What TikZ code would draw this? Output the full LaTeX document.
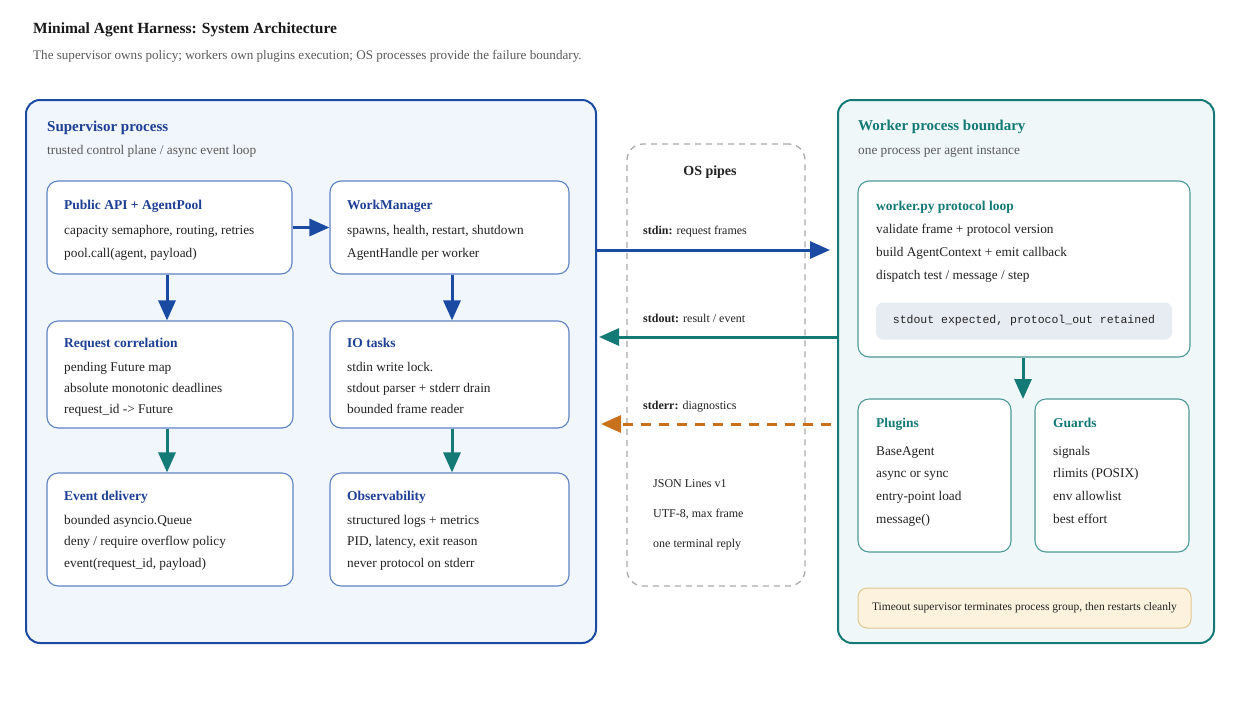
\documentclass[tikz,border=0pt]{standalone}
\usepackage{fontspec}
\setmainfont{Liberation Serif}
\setmonofont{Liberation Mono}
\usetikzlibrary{arrows.meta,calc}
\definecolor{supblue}{HTML}{1B4AA3}
\definecolor{titleblue}{HTML}{1E3F96}
\definecolor{boxblue}{HTML}{5E82C4}
\definecolor{supfill}{HTML}{F1F6FC}
\definecolor{wteal}{HTML}{137A75}
\definecolor{wfill}{HTML}{EFF7F8}
\definecolor{wbox}{HTML}{4E9A98}
\definecolor{orng}{HTML}{C8701C}
\definecolor{txt}{HTML}{222222}
\definecolor{subgray}{HTML}{5A5A5A}
\definecolor{codefill}{HTML}{E7ECF3}
\definecolor{tofill}{HTML}{FCF2DE}
\definecolor{todraw}{HTML}{E2C68E}
\definecolor{pipegray}{HTML}{ABABAB}
\newcommand\titfont{\fontsize{13.5}{16}\selectfont\bfseries}
\newcommand\bodyfont{\fontsize{13.3}{15}\selectfont}
\newcommand\mkbox[6]{\node[#1, minimum width={#4-#2}, minimum height={#5-#3}] (#6) at ({(#2+#4)/2},{(#3+#5)/2}) {};}
\newcommand\boxtext[8]{%
  \node[anchor=base west, font=\titfont, text=#4, inner sep=0pt] (#1-t) at (#2,#3+4) {#5};
  \foreach \l [count=\i] in {#8} {\node[anchor=base west, font=\bodyfont, text=txt, inner sep=0pt] (#1-\i) at (#2,{#3+4+#6+(\i-1)*#7}) {\l};}%
}
\tikzset{
  outerbox/.style={draw, rounded corners=14pt, line width=2pt, inner sep=0pt},
  ibox/.style={draw=boxblue, fill=white, rounded corners=11pt, line width=1.1pt, inner sep=0pt},
  wibox/.style={draw=wbox, fill=white, rounded corners=11pt, line width=1.1pt, inner sep=0pt},
  pipebox/.style={draw=pipegray, dash pattern=on 6pt off 5pt, rounded corners=16pt, line width=1.3pt, inner sep=0pt},
  arr/.style={line width=3pt, -{Triangle[length=20pt,width=17pt]}},
  lbl/.style={anchor=base west, inner sep=0pt, font=\fontsize{12}{14}\selectfont, text=txt},
  subt/.style={anchor=base west, inner sep=0pt, font=\fontsize{13.3}{15}\selectfont, text=subgray},
}
\begin{document}
\begin{tikzpicture}[x=1pt,y=-1pt]
\useasboundingbox[fill=white] (0,0) rectangle (1247,702);
% header
\node[anchor=base west, inner sep=0pt, font=\fontsize{15.5}{18}\selectfont\bfseries, text=black!90] (title) at (33,33) {Minimal Agent Harness: System Architecture};
\node[anchor=base west, inner sep=0pt, font=\fontsize{13.1}{15}\selectfont, text=subgray] (subtitle) at (33,59) {The supervisor owns policy; workers own plugins execution; OS processes provide the failure boundary.};
% outer containers
\mkbox{outerbox, draw=supblue, fill=supfill}{26}{100}{596}{643}{sup}
\mkbox{outerbox, draw=wteal, fill=wfill}{838}{100}{1214}{643}{wk}
\mkbox{pipebox}{627}{144}{805}{586}{pipes}
\node[anchor=base west, inner sep=0pt, font=\fontsize{15}{17}\selectfont\bfseries, text=titleblue] (supt) at (47,131) {Supervisor process};
\node[subt] (sups) at (47,154) {trusted control plane / async event loop};
\node[anchor=base west, inner sep=0pt, font=\fontsize{15}{17}\selectfont\bfseries, text=wteal] (wkt) at (858,130) {Worker process boundary};
\node[subt] (wks) at (858,154) {one process per agent instance};
% supervisor inner boxes
\mkbox{ibox}{47}{181}{292}{274}{api}
\mkbox{ibox}{330}{181}{569}{274}{wm}
\mkbox{ibox}{47}{321}{293}{428}{rc}
\mkbox{ibox}{330}{321}{569}{428}{io}
\mkbox{ibox}{47}{473}{293}{586}{ev}
\mkbox{ibox}{330}{473}{569}{586}{ob}
\boxtext{apit}{64}{205}{titleblue}{Public API + AgentPool}{25}{23}{{capacity semaphore, routing, retries},{pool.call(agent, payload)}}
\boxtext{wmt}{347}{205}{titleblue}{WorkManager}{25}{23}{{spawns, health, restart, shutdown},{AgentHandle per worker}}
\boxtext{rct}{64}{343}{titleblue}{Request correlation}{24.5}{21}{{pending Future map},{absolute monotonic deadlines},{request\_id -> Future}}
\boxtext{iot}{347}{343}{titleblue}{IO tasks}{24.5}{21}{{stdin write lock.},{stdout parser + stderr drain},{bounded frame reader}}
\boxtext{evt}{64}{496}{titleblue}{Event delivery}{24}{21.7}{{bounded asyncio.Queue},{deny / require overflow policy},{event(request\_id, payload)}}
\boxtext{obt}{347}{496}{titleblue}{Observability}{24}{21.7}{{structured logs + metrics},{PID, latency, exit reason},{never protocol on stderr}}
% supervisor arrows
\draw[arr, supblue] (api.east) -- (wm.west);
\draw[arr, supblue] (api.south -| 167,0) -- (rc.north -| 167,0);
\draw[arr, supblue] (wm.south -| 452,0) -- (io.north -| 452,0);
\draw[arr, wteal] (rc.south -| 167,0) -- (ev.north -| 167,0);
\draw[arr, wteal] (io.south -| 452,0) -- (ob.north -| 452,0);
% worker inner boxes
\mkbox{wibox}{858}{181}{1190}{357}{wpy}
\boxtext{wpyt}{876}{206}{wteal}{worker.py protocol loop}{23.5}{23}{{validate frame + protocol version},{build AgentContext + emit callback},{dispatch test / message / step}}
\node[fill=codefill, rounded corners=7pt, minimum width=296, minimum height=37, inner sep=0pt, font=\ttfamily\fontsize{11.5}{13}\selectfont, text=txt] (code) at (1024,321) {stdout expected, protocol\_out retained};
\mkbox{wibox}{858}{399}{1011}{552}{plg}
\mkbox{wibox}{1035}{399}{1189}{552}{grd}
\boxtext{plgt}{876}{423}{wteal}{Plugins}{28}{22.8}{{BaseAgent},{async or sync},{entry-point load},{message()}}
\boxtext{grdt}{1053}{423}{wteal}{Guards}{28}{22.8}{{signals},{rlimits (POSIX)},{env allowlist},{best effort}}
\coordinate (split) at (1023,399);
\draw[arr, wteal] (wpy.south -| split) -- (split);
\node[draw=todraw, fill=tofill, rounded corners=9pt, line width=1pt, minimum width=333, minimum height=40, inner sep=0pt, font=\fontsize{11.5}{13}\selectfont, text=txt] (tmo) at (1024.5,608) {Timeout supervisor terminates process group, then restarts cleanly};
% OS pipes
\node[anchor=base, inner sep=0pt, font=\fontsize{14}{17}\selectfont\bfseries, text=txt] (pipest) at (710,175) {OS pipes};
\node[lbl] (stdinl) at (643,234) {\textbf{stdin:} request frames};
\node[lbl] (stdoutl) at (643,322) {\textbf{stdout:} result / event};
\node[lbl] (stderrl) at (643,409) {\textbf{stderr:} diagnostics};
\node[lbl] (j1) at (653,487) {JSON Lines v1};
\node[lbl] (j2) at (653,517) {UTF-8, max frame};
\node[lbl] (j3) at (653,547) {one terminal reply};
\coordinate (yin) at (0,250);
\coordinate (yout) at (0,337);
\coordinate (yerr) at (0,424);
\draw[arr, supblue] (sup.east |- yin) -- ($(wk.west |- yin)+(-7,0)$);
\draw[arr, wteal] (wk.west |- yout) -- ($(sup.east |- yout)+(2,0)$);
\draw[arr, orng, dash pattern=on 10pt off 8pt] ($(wk.west |- yerr)+(-6,0)$) -- ($(sup.east |- yerr)+(4,0)$);
\end{tikzpicture}
\end{document}
